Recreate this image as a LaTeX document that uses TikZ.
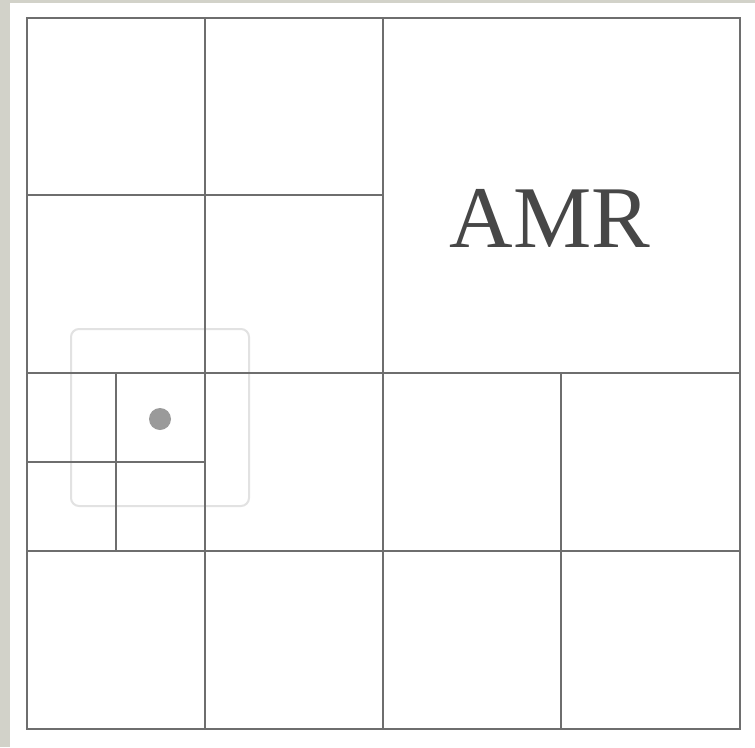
\documentclass[tikz,border=0pt]{standalone}
\usepackage{fontspec}
\setmainfont{Liberation Serif}
\definecolor{beige}{HTML}{D2D2C9}
\definecolor{gridc}{HTML}{6E6E6E}
\definecolor{faint}{HTML}{E2E2E2}
\definecolor{dotc}{HTML}{9A9A9A}
\definecolor{txt}{HTML}{474747}
\tikzset{gridline/.style={draw=gridc,line width=2pt},
  faintbox/.style={draw=faint,line width=2pt,rounded corners=8pt}}
\begin{document}
\begin{tikzpicture}[x=1pt,y=-1pt]
\useasboundingbox (0,0) rectangle (755,747);
\fill[white] (0,0) rectangle (755,747);
\fill[beige] (0,0) rectangle (10,747);
\fill[beige] (0,0) rectangle (755,3);
% faint refinement box
\draw[faintbox] (71,329) rectangle (249,506);
% outer square
\draw[gridline] (27,18) rectangle (740,729);
% full lines
\draw[gridline] (205,18) -- (205,729);
\draw[gridline] (383,18) -- (383,729);
\draw[gridline] (27,373) -- (740,373);
\draw[gridline] (27,551) -- (740,551);
% partial lines
\draw[gridline] (27,195) -- (383,195);
\draw[gridline] (561,373) -- (561,729);
% finer level
\draw[gridline] (116,373) -- (116,551);
\draw[gridline] (27,462) -- (205,462);
% particle
\fill[dotc] (160,419) circle (11);
\node[txt,font=\fontsize{88}{88}\selectfont,inner sep=0pt,anchor=base] (amr) at (550,247) {AMR};
\end{tikzpicture}
\end{document}
